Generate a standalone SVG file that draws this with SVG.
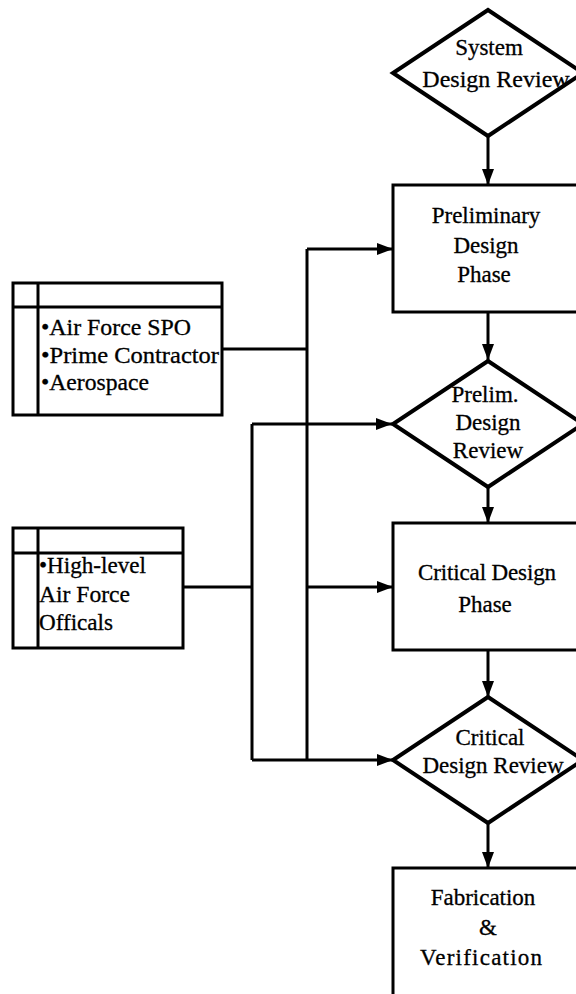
<svg xmlns="http://www.w3.org/2000/svg" width="576" height="994" viewBox="0 0 576 994">
  <style>
    .box { fill: #fff; stroke: #000; stroke-width: 3; }
    .dia { fill: #fff; stroke: #000; stroke-width: 4; stroke-linejoin: miter; }
    .rule { stroke: #000; stroke-width: 3; fill: none; }
    .wire { stroke: #000; stroke-width: 3; fill: none; }
    text { font-family: "Liberation Serif", "Times New Roman", serif; font-size: 23px; fill: #000; stroke: #000; stroke-width: 0.3; }
    .c { text-anchor: middle; }
  </style>
  <defs>
    <marker id="arrow" viewBox="0 0 16 12" refX="16" refY="6" markerWidth="16" markerHeight="12" markerUnits="userSpaceOnUse" orient="auto">
      <path d="M0,0 L16,6 L0,12 Z" fill="#000"/>
    </marker>
  </defs>

  <rect width="576" height="994" fill="#fff"/>

  <!-- connectors -->
  <g id="connectors">
    <!-- main flow -->
    <line class="wire" x1="488" y1="136" x2="488" y2="185" marker-end="url(#arrow)"/>
    <line class="wire" x1="488" y1="312" x2="488" y2="360" marker-end="url(#arrow)"/>
    <line class="wire" x1="488" y1="487" x2="488" y2="523" marker-end="url(#arrow)"/>
    <line class="wire" x1="488" y1="650" x2="488" y2="697" marker-end="url(#arrow)"/>
    <line class="wire" x1="488" y1="823" x2="488" y2="868" marker-end="url(#arrow)"/>
    <!-- team bus -->
    <polyline class="wire" points="222,349 307,349"/>
    <line class="wire" x1="307" y1="249" x2="307" y2="760"/>
    <line class="wire" x1="307" y1="249" x2="393" y2="249" marker-end="url(#arrow)"/>
    <line class="wire" x1="307" y1="587" x2="393" y2="587" marker-end="url(#arrow)"/>
    <!-- officials bus -->
    <polyline class="wire" points="183,587 252,587"/>
    <line class="wire" x1="252" y1="424" x2="252" y2="760"/>
    <line class="wire" x1="252" y1="424" x2="392" y2="424" marker-end="url(#arrow)"/>
    <line class="wire" x1="252" y1="760" x2="393" y2="760" marker-end="url(#arrow)"/>
  </g>

  <g id="system-design-review">
    <polygon class="dia" points="488,10 583,73 488,136 393,73"/>
    <text class="c" x="489" y="55">System</text>
    <text class="c" x="496" y="87" style="font-size:24px">Design Review</text>
  </g>

  <g id="preliminary-design-phase">
    <rect class="box" x="393" y="185" width="200" height="127"/>
    <text class="c" x="486" y="223">Preliminary</text>
    <text class="c" x="486" y="253">Design</text>
    <text class="c" x="484" y="282">Phase</text>
  </g>

  <g id="prelim-design-review">
    <polygon class="dia" points="488,361 583,424 488,487 393,424"/>
    <text class="c" x="485" y="402">Prelim.</text>
    <text class="c" x="488" y="430">Design</text>
    <text class="c" x="488" y="458">Review</text>
  </g>

  <g id="critical-design-phase">
    <rect class="box" x="393" y="523" width="200" height="127"/>
    <text class="c" x="487" y="580" textLength="138" lengthAdjust="spacing">Critical Design</text>
    <text class="c" x="485" y="612">Phase</text>
  </g>

  <g id="critical-design-review">
    <polygon class="dia" points="488,697 583,760 488,823 393,760"/>
    <text class="c" x="490" y="745">Critical</text>
    <text class="c" x="493" y="773">Design Review</text>
  </g>

  <g id="fabrication-verification">
    <rect class="box" x="393" y="868" width="200" height="140"/>
    <text class="c" x="483" y="905">Fabrication</text>
    <text class="c" x="488" y="935">&amp;</text>
    <text class="c" x="481" y="965" textLength="122" lengthAdjust="spacing">Verification</text>
  </g>

  <g id="design-team">
    <rect class="box" x="13" y="283" width="209" height="132"/>
    <line class="rule" x1="38" y1="283" x2="38" y2="415"/>
    <line class="rule" x1="13" y1="307" x2="222" y2="307"/>
    <text x="41" y="335" textLength="150" lengthAdjust="spacingAndGlyphs">•Air Force SPO</text>
    <text x="41" y="363" textLength="178" lengthAdjust="spacingAndGlyphs">•Prime Contractor</text>
    <text x="41" y="390" textLength="108" lengthAdjust="spacingAndGlyphs">•Aerospace</text>
  </g>

  <g id="officials">
    <rect class="box" x="13" y="528" width="170" height="120"/>
    <line class="rule" x1="38" y1="528" x2="38" y2="648"/>
    <line class="rule" x1="13" y1="553" x2="183" y2="553"/>
    <text x="39" y="573" textLength="107" lengthAdjust="spacingAndGlyphs">•High-level</text>
    <text x="39" y="602" textLength="91" lengthAdjust="spacingAndGlyphs">Air Force</text>
    <text x="39" y="630" textLength="74" lengthAdjust="spacingAndGlyphs">Officals</text>
  </g>
</svg>
